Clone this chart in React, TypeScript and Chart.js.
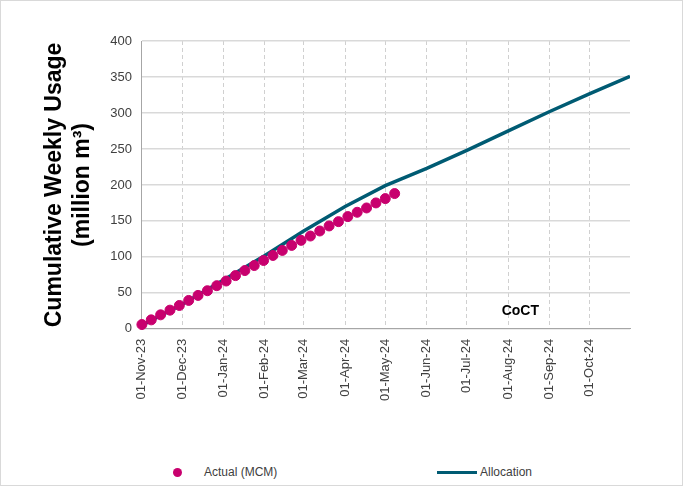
import { useEffect, useRef } from "react";
import { Chart, registerables } from "chart.js";

Chart.register(...registerables);

// days since 01-Nov-23 for each month start shown on the axis
const monthDays = [0, 30, 61, 92, 121, 152, 182, 213, 243, 274, 305, 335];
const monthLabels = [
  "01-Nov-23", "01-Dec-23", "01-Jan-24", "01-Feb-24", "01-Mar-24", "01-Apr-24",
  "01-May-24", "01-Jun-24", "01-Jul-24", "01-Aug-24", "01-Sep-24", "01-Oct-24",
];

// weekly actual cumulative usage (MCM), starting 01-Nov-23
const actual = [
  6, 12.5, 19.5, 26, 32.5, 39.5, 46.5, 53, 60, 66.5, 74, 81, 88, 95, 102, 109,
  116, 123, 129, 136, 143, 149, 156, 162, 168, 175, 181, 188,
];

// allocation at month starts (and end of Oct-24)
const allocDays = [0, 30, 61, 92, 121, 152, 182, 213, 243, 274, 305, 335, 365];
const allocation = [5, 34, 68, 102, 136, 170, 199, 223, 248, 275, 302, 327, 351];

const labelPlugin = {
  id: "coct",
  afterDraw(c: any) {
    const { ctx, scales } = c;
    ctx.save();
    ctx.font = "bold 14px 'Liberation Sans', Arial";
    ctx.fillStyle = "#000";
    ctx.textAlign = "center";
    ctx.textBaseline = "middle";
    ctx.fillText("CoCT", scales.x.getPixelForValue(283), scales.y.getPixelForValue(25));
    ctx.restore();
  },
};

export default function App() {
  const ref = useRef<HTMLCanvasElement>(null);

  useEffect(() => {
    if (!ref.current) return;
    const chart = new Chart(ref.current, {
      type: "line",
      data: {
        datasets: [
          {
            label: "Allocation",
            data: allocDays.map((d, i) => ({ x: d, y: allocation[i] })),
            borderColor: "#005B73",
            borderWidth: 3.5,
            pointRadius: 0,
            tension: 0,
            order: 2,
          },
          {
            label: "Actual (MCM)",
            data: actual.map((v, i) => ({ x: i * 7, y: v })),
            showLine: false,
            pointRadius: 5,
            pointBackgroundColor: "#C8006E",
            pointBorderColor: "#C8006E",
            clip: false,
            order: 1,
          },
        ],
      },
      options: {
        responsive: true,
        maintainAspectRatio: false,
        animation: false,
        layout: { padding: { left: 36, right: 54, top: 40, bottom: 15 } },
        plugins: { legend: { display: false }, tooltip: { enabled: false } },
        scales: {
          x: {
            type: "linear",
            min: 0,
            max: 365,
            afterBuildTicks: (s: any) => {
              s.ticks = monthDays.map((v) => ({ value: v }));
            },
            ticks: {
              autoSkip: false,
              maxRotation: 90,
              minRotation: 90,
              padding: 10,
              color: "#404040",
              font: { family: "'Liberation Sans', Arial", size: 13 },
              callback: (v: any) => monthLabels[monthDays.indexOf(Number(v))] ?? "",
            },
            grid: { color: "#d0d0d0", drawTicks: false },
            border: { color: "#a6a6a6", dash: [4, 3] },
          },
          y: {
            min: 0,
            max: 400,
            ticks: {
              stepSize: 50,
              color: "#404040",
              padding: 10,
              font: { family: "'Liberation Sans', Arial", size: 13 },
            },
            grid: { color: "#d9d9d9", lineWidth: 1.5, drawTicks: false },
            border: { color: "#a6a6a6" },
            title: {
              display: true,
              text: ["Cumulative Weekly Usage", "(million m³)"],
              color: "#000",
              font: { family: "'Liberation Sans', Arial", size: 23, weight: "bold" },
              padding: { bottom: 4 },
            },
          },
        },
      },
      plugins: [labelPlugin],
    });
    return () => chart.destroy();
  }, []);

  return (
    <div
      style={{
        position: "absolute",
        left: 0,
        top: 0,
        width: 683,
        height: 486,
        boxSizing: "border-box",
        border: "1px solid #d9d9d9",
        background: "#fff",
        fontFamily: "'Liberation Sans', Arial",
      }}
    >
      <div style={{ position: "absolute", left: 0, top: 0, width: 683, height: 425 }}>
        <canvas ref={ref} />
      </div>
      <div style={{ position: "absolute", left: 172, top: 464, fontSize: 12, color: "#404040", display: "flex", alignItems: "center" }}>
        <span style={{ width: 9, height: 9, borderRadius: "50%", background: "#C8006E", display: "inline-block", marginRight: 22 }} />
        Actual (MCM)
      </div>
      <div style={{ position: "absolute", left: 436, top: 464, fontSize: 12, color: "#404040", display: "flex", alignItems: "center" }}>
        <span style={{ width: 40, height: 3, background: "#005B73", display: "inline-block", marginRight: 3 }} />
        Allocation
      </div>
    </div>
  );
}
